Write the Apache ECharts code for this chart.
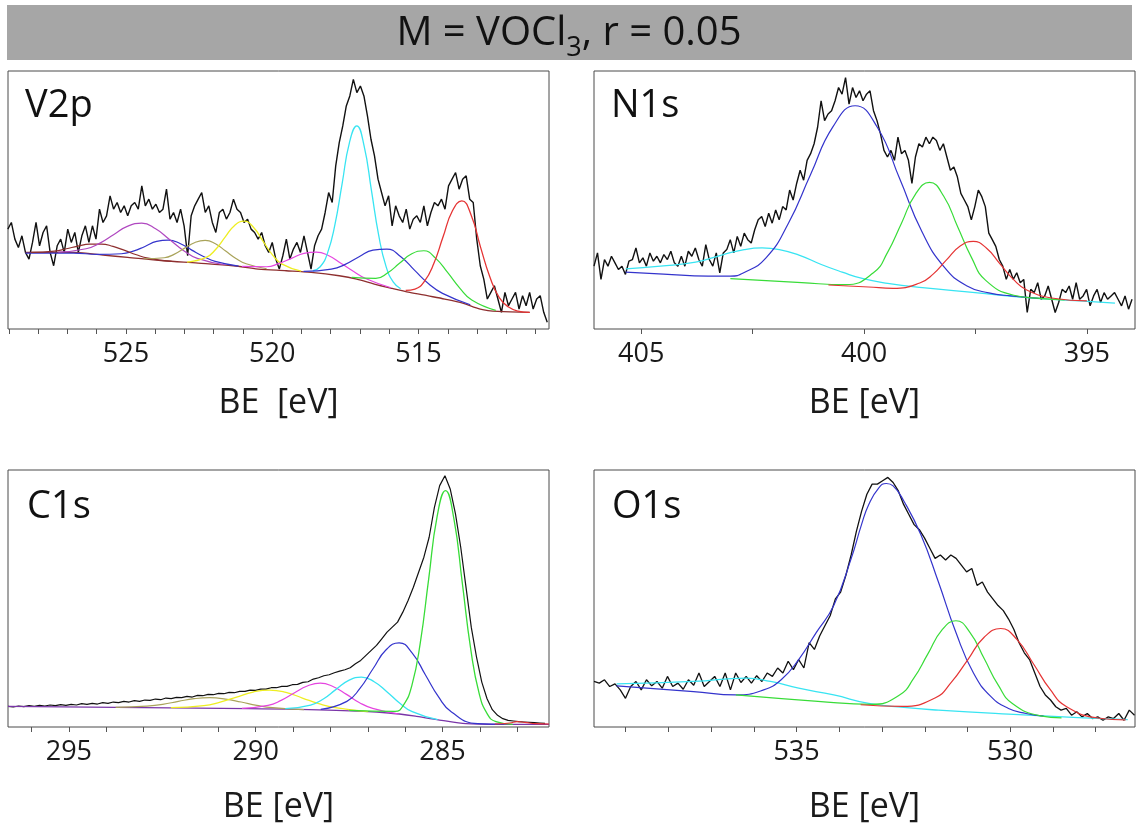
<!DOCTYPE html>
<html><head><meta charset="utf-8">
<script src="https://cdn.jsdelivr.net/npm/echarts@6/dist/echarts.min.js"></script>
<style>html,body{margin:0;padding:0;background:#fff}#c{width:1138px;height:832px}</style>
</head><body><div id="c"></div><script>
// ---------------- DATA ----------------
// Measured spectra: start binding energy (eV), step (eV), intensities (arb. units)
const v2pStart = 529.036, v2pStep = 0.1205;
const v2pCounts = [300,320,270,245,280,230,210,260,320,250,290,310,230,190,250,270,230,300,260,290,230,280,310,260,310,270,360,320,340,400,360,380,350,370,340,370,380,360,430,370,390,360,375,350,360,420,330,350,320,360,310,220,340,370,390,410,350,370,320,290,350,360,330,350,390,360,350,320,330,300,290,270,290,250,230,260,210,180,220,270,210,240,260,230,280,230,180,250,280,300,350,410,380,490,560,610,670,700,750,710,730,700,640,570,520,450,410,370,400,310,370,340,320,360,300,330,340,320,370,310,350,380,370,390,360,430,450,470,420,450,460,390,380,270,190,150,90,110,130,90,50,110,70,90,110,60,100,70,110,60,90,100,50,20];
const n1sStart = 406.06, n1sStep = 0.0784;
const n1sCounts = [190,230,150,210,190,220,200,180,190,165,205,210,245,200,215,190,230,205,220,200,225,210,235,200,190,220,190,235,220,245,210,190,255,210,190,230,170,230,240,270,230,280,250,290,270,260,300,330,340,310,350,320,360,330,370,360,420,390,440,480,450,510,530,560,610,690,630,650,660,690,730,710,760,680,730,700,720,690,710,720,660,630,590,540,520,540,510,580,530,540,510,440,520,560,550,580,560,580,570,540,560,520,480,490,460,410,390,370,330,370,420,400,370,290,270,250,210,190,150,180,150,170,140,150,50,120,110,140,90,100,130,90,50,80,120,110,130,90,140,90,100,120,70,100,120,80,110,90,100,110,90,70,100,60,90];
const c1sStart = 296.63, c1sStep = 0.1409;
const c1sCounts = [62,60,63,61,64,62,65,63,66,64,67,65,68,66,70,68,71,69,73,71,75,73,77,75,79,77,81,80,84,82,87,85,89,88,92,90,95,94,98,97,101,100,104,103,107,107,111,110,114,114,118,118,122,122,127,128,134,136,144,148,154,157,163,168,172,178,190,200,215,230,245,265,285,300,315,345,380,420,465,510,570,660,725,755,715,640,540,420,300,210,135,85,52,35,25,20,18,16,15,14,13,12,11];
const o1sStart = 539.74, o1sStep = 0.1228;
const o1sCounts = [135,130,140,120,128,110,85,120,135,110,140,122,135,115,150,120,130,112,140,124,160,120,135,150,120,160,110,160,132,150,130,152,135,160,150,175,160,195,170,200,175,250,230,270,300,330,380,400,450,510,580,640,690,720,720,730,740,725,700,660,630,600,585,560,530,500,510,495,510,500,480,460,470,420,430,400,380,360,345,320,290,250,220,200,160,120,95,80,60,50,55,35,45,30,40,25,30,20,30,25,40,20,50,35];

// Fitted components: [BE, intensity]
const v2pBackground = [[528.43,230],[526.75,230],[525.78,222],[524.94,215],[523.73,205],[522.53,198],[521.33,190],[520.48,180],[519.52,175],[518.67,170],[517.71,160],[517.11,150],[516.51,135],[515.90,122],[515.30,110],[514.70,100],[514.10,90],[513.49,78],[512.89,60],[512.29,53],[511.20,50]];
const v2pBrown = [[528.24,230],[527.44,234],[527.04,241],[526.64,249],[526.24,255],[525.84,255],[525.44,248],[525.04,236],[524.64,223],[524.24,213],[523.44,203]];
const v2pViolet = [[527.31,231],[526.36,241],[525.885,258],[525.41,284],[524.935,309],[524.46,318],[523.985,301],[523.51,269],[523.035,236],[522.56,212],[521.61,193]];
const v2pBlueA = [[528.43,228],[526.8,228],[525.95,224],[525.15,226],[524.75,234],[524.35,248],[523.95,263],[523.55,267],[523.15,257],[522.75,237],[522.35,218],[521.95,203],[521.15,189]];
const v2pOlive = [[524.39,211],[523.69,214],[523.34,225],[522.99,243],[522.64,260],[522.29,266],[521.94,256],[521.59,234],[521.24,212],[520.89,196],[520.19,181]];
const v2pYellow = [[522.91,201],[522.26,215],[521.935,239],[521.61,276],[521.285,311],[520.96,324],[520.635,305],[520.31,263],[519.985,222],[519.66,195],[519.01,174]];
const v2pPink = [[521.04,188],[520.19,187],[519.765,197],[519.34,212],[518.915,227],[518.49,231],[518.065,220],[517.64,197],[517.215,173],[516.79,151],[515.94,124]];
const v2pCyan = [[518.61,175],[518.36,187],[518.11,228],[517.86,312],[517.61,437],[517.36,560],[517.11,610],[516.86,550],[516.61,417],[516.36,281],[516.11,188],[515.86,141],[515.61,121]];
const v2pBlueB = [[518.93,173],[517.98,180],[517.505,194],[517.03,217],[516.555,237],[516.08,240],[515.605,217],[515.13,176],[514.655,136],[514.18,107],[513.23,73]];
const v2pGreen = [[517.28,155],[516.46,152],[516.05,169],[515.64,198],[515.23,226],[514.82,235],[514.41,212],[514.0,169],[513.59,123],[513.18,87],[512.36,56]];
const v2pRed = [[515.44,116],[515.12,120],[514.80,143],[514.48,196],[514.16,277],[513.84,355],[513.52,385],[513.20,342],[512.88,246],[512.56,156],[512.24,94],[511.92,66],[511.60,54],[511.20,50]];

const n1sCyan = [[405.35,182],[404.57,190],[403.78,202],[403.16,225],[402.69,240],[402.29,245],[401.90,240],[401.43,222],[400.96,195],[400.49,172],[400.02,152],[399.47,138],[398.69,125],[397.51,110],[396.33,95],[395.16,85],[394.37,78]];
const n1sBlue = [[405.35,172],[404.5,166],[403.5,160],[403.0,160],[402.7,170],[402.2,215],[401.7,319],[401.2,467],[400.7,611],[400.2,675],[399.7,609],[399.2,454],[398.7,294],[398.2,187],[397.7,131],[397.2,109],[396.7,100],[396.0,92]];
const n1sGreen = [[403.0,152],[401.4,140],[400.42,134],[399.79,170],[399.475,231],[399.16,320],[398.845,408],[398.53,443],[398.215,402],[397.90,309],[397.585,215],[397.27,147],[396.64,102],[396.0,92],[395.5,88]];
const n1sRed = [[400.8,133],[399.9,127],[399.35,123],[398.75,139],[398.45,166],[398.15,209],[397.85,250],[397.55,265],[397.25,244],[396.95,197],[396.65,150],[396.35,118],[395.75,93],[395.0,85]];

const c1sBackground = [[296.63,62],[290.2,55],[287.85,50],[286.44,42],[285.7,32],[285.03,20],[284.37,10],[283.5,8],[282.15,8]];
const c1sOlive = [[293.75,59],[292.91,63],[292.49,68],[292.07,77],[291.65,85],[291.23,88],[290.81,84],[290.39,75],[289.97,65],[289.55,58],[288.71,52]];
const c1sYellow = [[292.27,58],[291.39,64],[290.95,75],[290.51,90],[290.07,105],[289.63,111],[289.19,104],[288.75,87],[288.31,70],[287.87,58],[286.99,46]];
const c1sMagenta = [[290.37,56],[289.67,65],[289.32,80],[288.97,102],[288.62,123],[288.27,132],[287.92,121],[287.57,98],[287.22,73],[286.87,56],[286.17,39]];
const c1sCyan = [[289.21,55],[288.53,66],[288.19,84],[287.85,113],[287.51,140],[287.17,150],[286.83,136],[286.49,106],[286.15,72],[285.81,46],[285.13,22]];
const c1sBlue = [[288.26,53],[287.56,77],[287.21,116],[286.86,175],[286.51,232],[286.16,253],[285.81,222],[285.46,157],[285.11,91],[284.76,45],[284.06,10],[283.36,8]];
const c1sGreen = [[287.5,50],[286.27,47],[286.045,66],[285.82,125],[285.595,253],[285.37,445],[285.145,632],[284.92,710],[284.695,625],[284.47,432],[284.245,234],[284.02,101],[283.795,38],[283.57,16],[283.12,8]];
const c1sRed = [[283.6,9],[283.2,12],[283.0,16],[282.8,14],[282.5,10],[282.15,9]];

const o1sCyan = [[539.21,128],[537.41,135],[536.18,145],[535.61,135],[534.95,115],[534.13,95],[533.31,70],[532.49,58],[531.68,50],[530.04,38],[528.41,28],[527.25,22]];
const o1sBlue = [[539.21,122],[537.41,105],[536.42,95],[535.77,110],[535.36,140],[534.95,200],[534.54,280],[534.13,360],[533.72,500],[533.48,600],[533.31,660],[533.07,710],[532.90,722],[532.74,715],[532.49,670],[532.09,570],[531.68,430],[531.27,280],[530.86,160],[530.45,90],[530.04,55],[529.63,40],[529.22,32]];
const o1sGreen = [[536.42,95],[534.5,76],[533.25,67],[532.59,95],[532.26,144],[531.93,216],[531.60,287],[531.27,315],[530.94,280],[530.61,203],[530.28,124],[529.95,70],[529.29,33],[528.8,27]];
const o1sRed = [[533.5,66],[532.53,61],[531.76,86],[531.38,132],[530.99,200],[530.61,266],[530.22,292],[529.84,259],[529.45,186],[529.07,112],[528.68,60],[527.91,26],[527.3,21]];

// Axis tick values and labels
const v2pTicks = [511,512,513,514,515,516,517,518,519,520,521,522,523,524,525,526,527,528,529];
const v2pLabels = [515,520,525];
const n1sTicks = [395,397.5,400,402.5,405];
const n1sLabels = [395,400,405];
const c1sTicks = [283,284,285,286,287,288,289,290,291,292,293,294,295,296];
const c1sLabels = [285,290,295];
const o1sTicks = [528,529,530,531,532,533,534,535,536,537,538,539];
const o1sLabels = [530,535];

const panelNames = ['V2p','N1s','C1s','O1s'];
const axisTitles = ['BE  [eV]','BE [eV]','BE [eV]','BE [eV]'];
const chartTitle = 'M = VOCl3, r = 0.05';

// ---------------- CHART ----------------
const FONT = '"Open Sans","Noto Sans","DejaVu Sans",sans-serif';
const COL = {black:'#111111', brown:'#8e2f2f', violet:'#b048c0', blue:'#3434cc', olive:'#a9a35a', yellow:'#eeee22', pink:'#e545e0', cyan:'#38e4f2', green:'#38dc38', red:'#e53434', purple:'#7a35a8'};

function spectrum(start, step, arr){ return arr.map((v,i)=>[start - i*step, v]); }

const grids = [
  {left:8, top:71, width:541, height:258},
  {left:594, top:71, width:541, height:258},
  {left:8, top:470, width:541, height:257},
  {left:594, top:470, width:541, height:257}
].map(g=>Object.assign({show:true, borderColor:'#4a4a4a', borderWidth:1, backgroundColor:'transparent'}, g));

function xAx(gi, min, max, ticks, labels, nameGap){
  return {type:'value', gridIndex:gi, min:min, max:max, inverse:true, position:'bottom',
    axisLine:{show:false}, splitLine:{show:false},
    axisTick:{show:true, inside:false, length:5, customValues:ticks, lineStyle:{color:'#555', width:1}},
    axisLabel:{show:true, customValues:labels, margin:12, fontSize:27, fontFamily:FONT, color:'#1a1a1a', formatter:v=>String(v)},
    name:axisTitles[gi], nameLocation:'middle', nameGap:nameGap,
    nameTextStyle:{fontSize:34, fontFamily:FONT, color:'#1a1a1a'}};
}
function yAx(gi, max){ return {type:'value', gridIndex:gi, min:0, max:max, show:false}; }

const xAxes = [
  xAx(0, 510.54, 529.03, v2pTicks, v2pLabels, 57),
  xAx(1, 393.92, 406.06, n1sTicks, n1sLabels, 57),
  xAx(2, 282.15, 296.63, c1sTicks, c1sLabels, 63),
  xAx(3, 527.08, 539.74, o1sTicks, o1sLabels, 63)
];
const yAxes = [yAx(0,775), yAx(1,780), yAx(2,772), yAx(3,762)];

function line(gi, data, color, width, smooth){
  return {type:'line', xAxisIndex:gi, yAxisIndex:gi, data:data, showSymbol:false, symbol:'none',
    smooth:smooth, lineStyle:{color:color, width:width}, silent:true, clip:true};
}
const series = [
  line(0, spectrum(v2pStart, v2pStep, v2pCounts), COL.black, 1.4, false),
  line(0, v2pBackground, COL.brown, 1.3, 0.3),
  line(0, v2pBlueA, COL.blue, 1.2, true),
  line(0, v2pBrown, COL.brown, 1.2, true),
  line(0, v2pViolet, COL.violet, 1.2, true),
  line(0, v2pOlive, COL.olive, 1.2, true),
  line(0, v2pYellow, COL.yellow, 1.3, true),
  line(0, v2pPink, COL.pink, 1.2, true),
  line(0, v2pCyan, COL.cyan, 1.3, true),
  line(0, v2pBlueB, COL.blue, 1.2, true),
  line(0, v2pGreen, COL.green, 1.2, true),
  line(0, v2pRed, COL.red, 1.3, true),

  line(1, spectrum(n1sStart, n1sStep, n1sCounts), COL.black, 1.4, false),
  line(1, n1sCyan, COL.cyan, 1.3, true),
  line(1, n1sBlue, COL.blue, 1.2, true),
  line(1, n1sGreen, COL.green, 1.2, true),
  line(1, n1sRed, COL.red, 1.2, true),

  line(2, spectrum(c1sStart, c1sStep, c1sCounts), COL.black, 1.2, false),
  line(2, c1sBackground, COL.purple, 1.3, 0.3),
  line(2, c1sOlive, COL.olive, 1.2, true),
  line(2, c1sYellow, COL.yellow, 1.3, true),
  line(2, c1sMagenta, COL.pink, 1.2, true),
  line(2, c1sCyan, COL.cyan, 1.3, true),
  line(2, c1sBlue, COL.blue, 1.2, true),
  line(2, c1sGreen, COL.green, 1.3, true),
  line(2, c1sRed, COL.red, 1.2, true),

  line(3, spectrum(o1sStart, o1sStep, o1sCounts), COL.black, 1.3, false),
  line(3, o1sCyan, COL.cyan, 1.3, true),
  line(3, o1sBlue, COL.blue, 1.2, true),
  line(3, o1sGreen, COL.green, 1.2, true),
  line(3, o1sRed, COL.red, 1.2, true)
];

const titleParts = chartTitle.split('3');
const labelPos = [[25,106],[611,106],[27,507],[612,507]];
const graphic = [
  {type:'rect', shape:{x:7, y:5, width:1125, height:55}, style:{fill:'#a6a6a6'}, z:0},
  {type:'text', z:10, style:{x:569, y:34, align:'center', verticalAlign:'middle',
    text:'{a|'+titleParts[0]+'}{s|3}{a|'+titleParts[1]+'}',
    rich:{a:{fontSize:40, fontFamily:FONT, fill:'#111', lineHeight:56},
          s:{fontSize:27, fontFamily:FONT, fill:'#111', lineHeight:27, verticalAlign:'bottom'}}}}
].concat(panelNames.map((t,i)=>({type:'text', z:10, style:{x:labelPos[i][0], y:labelPos[i][1], text:t,
    font:'38px '+FONT, fill:'#111', align:'left', verticalAlign:'middle'}})));

const chart = echarts.init(document.getElementById('c'), null, {renderer:'canvas'});
chart.setOption({animation:false, backgroundColor:'#ffffff', grid:grids, xAxis:xAxes, yAxis:yAxes, series:series, graphic:graphic});
</script></body></html>
